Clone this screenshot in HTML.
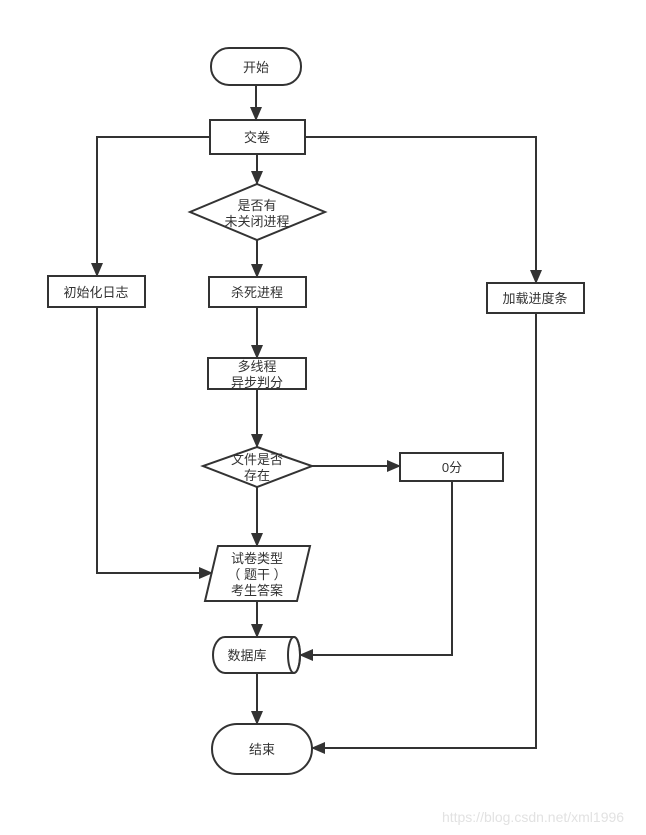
<!DOCTYPE html>
<html><head><meta charset="utf-8"><style>
html,body{margin:0;padding:0;background:#fff;}
svg{display:block;}
text{font-family:"Liberation Sans","Noto Sans CJK SC",sans-serif;font-size:13px;fill:#333;text-anchor:middle;}
</style></head><body>
<svg width="646" height="835" viewBox="0 0 646 835" xmlns="http://www.w3.org/2000/svg">
<defs><marker id="a" markerWidth="14" markerHeight="12" refX="13" refY="6" orient="auto" markerUnits="userSpaceOnUse"><path d="M0,0 L14,6 L0,12 Z" fill="#333"/></marker></defs>
<g fill="none" stroke="#333" stroke-width="2">
<rect x="211" y="48" width="90" height="37" rx="18"/>
<rect x="210" y="120" width="95" height="34"/>
<polygon points="257,184 325,212 257,240 190,212" fill="#fff"/>
<rect x="209" y="277" width="97" height="30"/>
<rect x="208" y="358" width="98" height="31"/>
<polygon points="257,447 312,466 257,487 203,466"/>
<rect x="400" y="453" width="103" height="28"/>
<polygon points="218,546 310,546 297,601 205,601"/>
<path d="M225,637 H294 A6,18 0 0 1 294,673 H225 A12,18 0 0 1 225,637 Z"/>
<ellipse cx="294" cy="655" rx="6" ry="18"/>
<rect x="212" y="724" width="100" height="50" rx="25"/>
<rect x="48" y="276" width="97" height="31"/>
<rect x="487" y="283" width="97" height="30"/>
<line x1="256" y1="85" x2="256" y2="120" marker-end="url(#a)"/>
<line x1="257" y1="154" x2="257" y2="184" marker-end="url(#a)"/>
<line x1="257" y1="240" x2="257" y2="277" marker-end="url(#a)"/>
<line x1="257" y1="307" x2="257" y2="358" marker-end="url(#a)"/>
<line x1="257" y1="389" x2="257" y2="447" marker-end="url(#a)"/>
<line x1="257" y1="487" x2="257" y2="546" marker-end="url(#a)"/>
<line x1="257" y1="601" x2="257" y2="637" marker-end="url(#a)"/>
<line x1="257" y1="673" x2="257" y2="724" marker-end="url(#a)"/>
<polyline points="210,137 97,137 97,276" marker-end="url(#a)"/>
<polyline points="97,307 97,573 212,573" marker-end="url(#a)"/>
<polyline points="305,137 536,137 536,283" marker-end="url(#a)"/>
<polyline points="536,313 536,748 312,748" marker-end="url(#a)"/>
<line x1="312" y1="466" x2="400" y2="466" marker-end="url(#a)"/>
<polyline points="452,481 452,655 300,655" marker-end="url(#a)"/>
</g>
<text x="256" y="72">开始</text>
<text x="257" y="142">交卷</text>
<text x="257" y="210">是否有</text>
<text x="257" y="226">未关闭进程</text>
<text x="257" y="297">杀死进程</text>
<text x="257" y="371">多线程</text>
<text x="257" y="387">异步判分</text>
<text x="257" y="464">文件是否</text>
<text x="257" y="480">存在</text>
<text x="452" y="472">0分</text>
<text x="257" y="563">试卷类型</text>
<text x="257" y="579">（ 题干 ）</text>
<text x="257" y="595">考生答案</text>
<text x="247" y="660">数据库</text>
<text x="262" y="754">结束</text>
<text x="96" y="297">初始化日志</text>
<text x="535" y="303">加载进度条</text>
<text x="533" y="822" style="fill:#e2e2e2;font-size:14px">https://blog.csdn.net/xml1996</text>
</svg>
</body></html>
